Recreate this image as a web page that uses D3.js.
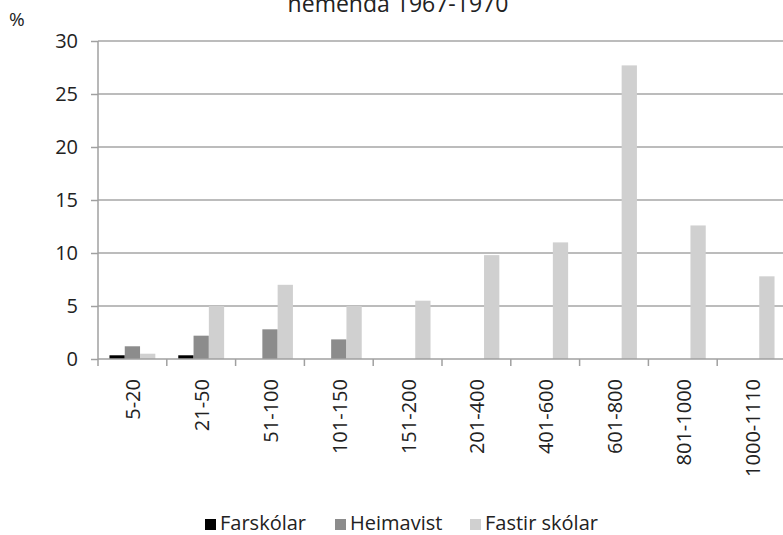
<!DOCTYPE html>
<html>
<head>
<meta charset="utf-8">
<script src="https://cdn.jsdelivr.net/npm/d3@7"></script>
<style>
  body { margin: 0; background: #fff; }
  text { font-family: "Open Sans", "Noto Sans", sans-serif; fill: #222; }
</style>
</head>
<body>
<div id="svgContainer"></div>
<script>
// data
var categories = ["5-20","21-50","51-100","101-150","151-200","201-400","401-600","601-800","801-1000","1000-1110"];
var seriesNames = ["Farskólar","Heimavist","Fastir skólar"];
var farskolar = [0.35,0.35,0,0,0,0,0,0,0,0];
var heimavist = [1.2,2.2,2.8,1.85,0,0,0,0,0,0];
var fastir = [0.5,5.0,7.0,5.0,5.5,9.8,11.0,27.7,12.6,7.8];
var yTicks = [0,5,10,15,20,25,30];
var colors = ["#000000","#8c8c8c","#d0d0d0"];

var svgWidth = 783, svgHeight = 535;
var svg = d3.select("#svgContainer").append("svg")
    .attr("width", svgWidth)
    .attr("height", svgHeight);

var plot = {left: 98, right: 786, top: 41, bottom: 359};

var x = d3.scaleBand().domain(categories).range([plot.left, plot.right]);
var xs = d3.scaleBand().domain(seriesNames).range([0, x.bandwidth()]).paddingOuter(0.75);
var y = d3.scaleLinear().domain([0, 30]).range([plot.bottom, plot.top]);

// gridlines
svg.append("g")
    .selectAll("line")
    .data(yTicks.filter(d => d > 0))
    .enter().append("line")
    .attr("x1", plot.left).attr("x2", svgWidth)
    .attr("y1", d => y(d)).attr("y2", d => y(d))
    .attr("stroke", "#a6a6a6").attr("stroke-width", 1.5);

// bars
var table = categories.map(function(c, i) {
    return { cat: c, vals: [farskolar[i], heimavist[i], fastir[i]] };
});
var groups = svg.append("g").selectAll("g")
    .data(table)
    .enter().append("g")
    .attr("transform", d => "translate(" + x(d.cat) + ",0)");
groups.selectAll("rect")
    .data(d => d.vals.map((v, j) => ({ name: seriesNames[j], v: v, j: j })))
    .enter().append("rect")
    .attr("x", d => xs(d.name))
    .attr("width", xs.bandwidth())
    .attr("y", d => y(d.v))
    .attr("height", d => plot.bottom - y(d.v))
    .attr("fill", d => colors[d.j]);

// y axis
var yAxis = svg.append("g")
    .attr("transform", "translate(" + plot.left + ",0)")
    .call(d3.axisLeft(y).tickValues(yTicks).tickSize(7).tickPadding(13));
yAxis.select(".domain").attr("stroke", "#a0a0a0").attr("stroke-width", 1.5)
    .attr("d", "M0," + plot.top + "V" + (plot.bottom + 7));
yAxis.selectAll(".tick line").attr("stroke", "#a0a0a0").attr("stroke-width", 1.5);
yAxis.selectAll(".tick text").attr("font-size", 20).attr("fill", "#222")
    .style("font-family", "'Open Sans', sans-serif");

// x axis: base line and ticks at band edges
svg.append("line")
    .attr("x1", plot.left).attr("x2", svgWidth)
    .attr("y1", plot.bottom).attr("y2", plot.bottom)
    .attr("stroke", "#a0a0a0").attr("stroke-width", 1.5);
svg.append("g").selectAll("line")
    .data(categories.slice(1))
    .enter().append("line")
    .attr("x1", d => x(d)).attr("x2", d => x(d))
    .attr("y1", plot.bottom).attr("y2", plot.bottom + 7)
    .attr("stroke", "#a0a0a0").attr("stroke-width", 1.5);

svg.append("g").selectAll("text")
    .data(categories)
    .enter().append("text")
    .attr("transform", d => "translate(" + (x(d) + x.bandwidth() / 2 + 8) + "," + (plot.bottom + 20) + ") rotate(-90)")
    .attr("text-anchor", "end")
    .attr("font-size", 20)
    .text(d => d);

// title (cut off at top) and unit
svg.append("text")
    .attr("x", 398).attr("y", 12)
    .attr("text-anchor", "middle")
    .attr("font-size", 23)
    .text("nemenda 1967-1970");
svg.append("text")
    .attr("x", 9).attr("y", 26)
    .attr("font-size", 19)
    .text("%");

// legend
var legendX = [205, 335, 470];
var legend = svg.append("g").selectAll("g")
    .data(seriesNames)
    .enter().append("g")
    .attr("transform", (d, i) => "translate(" + legendX[i] + ",519)");
legend.append("rect")
    .attr("width", 11).attr("height", 11)
    .attr("fill", (d, i) => colors[i]);
legend.append("text")
    .attr("x", 15).attr("y", 11)
    .attr("font-size", 20)
    .text(d => d);
</script>
</body>
</html>
